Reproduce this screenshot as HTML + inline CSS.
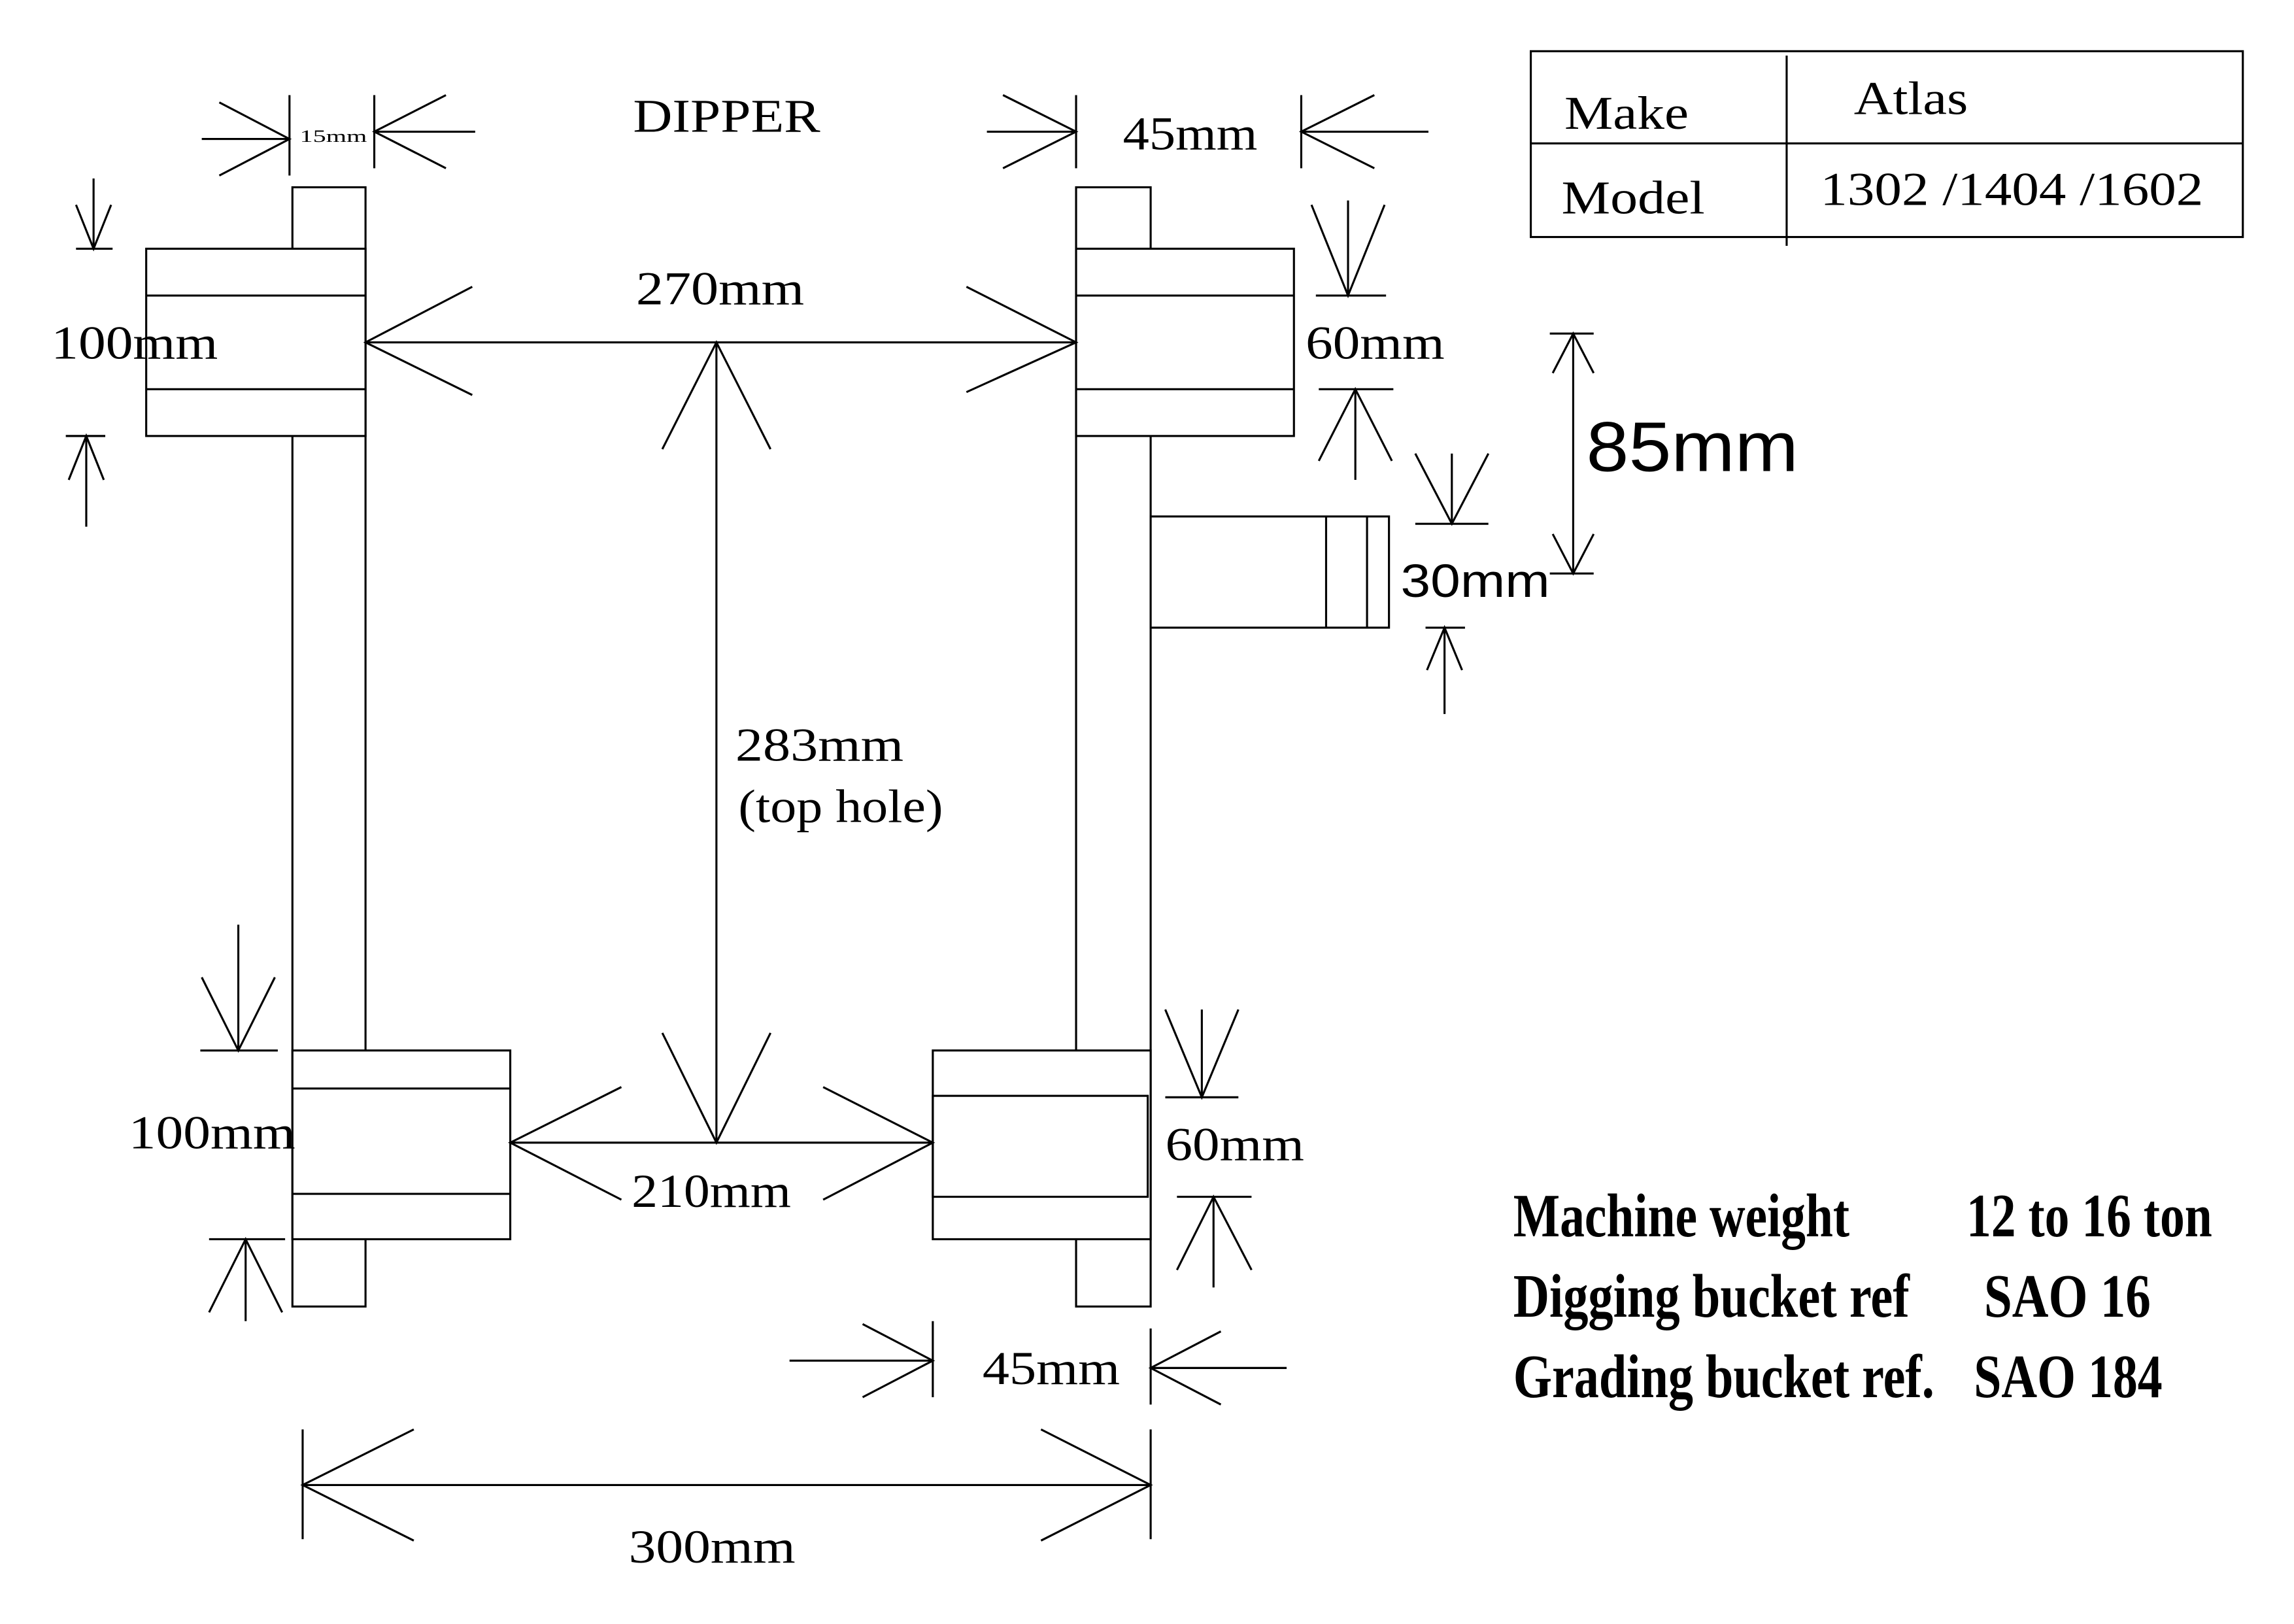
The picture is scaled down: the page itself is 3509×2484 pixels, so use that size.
<!DOCTYPE html>
<html><head><meta charset="utf-8"><style>
html,body{margin:0;padding:0;background:#fff;}
svg{display:block;}
text{font-family:"Liberation Serif",serif;fill:#000;}
.s{font-family:"Liberation Sans",sans-serif;}
.b{font-weight:bold;}
</style></head><body>
<svg width="3509" height="2484" viewBox="0 0 1569 1110" preserveAspectRatio="none" xmlns="http://www.w3.org/2000/svg">
<g fill="none" stroke="#000" stroke-width="1.4">
<rect x="200" y="128" width="50" height="765"/>
<rect x="736" y="128" width="51" height="765"/>
<rect x="100" y="170" width="150" height="128" fill="#fff"/>
<line x1="100" y1="202" x2="250" y2="202"/><line x1="100" y1="266" x2="250" y2="266"/>
<rect x="200" y="718" width="149" height="129" fill="#fff"/>
<line x1="200" y1="744" x2="349" y2="744"/><line x1="200" y1="816" x2="349" y2="816"/>
<rect x="736" y="170" width="149" height="128" fill="#fff"/>
<line x1="736" y1="202" x2="885" y2="202"/><line x1="736" y1="266" x2="885" y2="266"/>
<rect x="638" y="718" width="149" height="129" fill="#fff"/>
<rect x="638" y="749" width="147" height="69"/>
<rect x="787" y="353" width="163" height="76" fill="#fff"/>
<line x1="907" y1="353" x2="907" y2="429"/><line x1="935" y1="353" x2="935" y2="429"/>
<rect x="1047" y="35" width="487" height="127"/>
<line x1="1047" y1="98" x2="1534" y2="98"/><line x1="1222" y1="38" x2="1222" y2="168"/>

<line x1="250" y1="234" x2="736" y2="234"/>
<polyline points="323,196 250,234 323,270"/><polyline points="661,196 736,234 661,268"/>
<line x1="490" y1="234" x2="490" y2="781"/>
<polyline points="453,307 490,234 527,307"/><polyline points="453,706 490,781 527,706"/>
<line x1="349" y1="781" x2="638" y2="781"/>
<polyline points="425,743 349,781 425,820"/><polyline points="563,743 638,781 563,820"/>
<line x1="207" y1="1015" x2="787" y2="1015"/>
<line x1="207" y1="977" x2="207" y2="1052"/><line x1="787" y1="977" x2="787" y2="1052"/>
<polyline points="283,977 207,1015 283,1053"/><polyline points="712,977 787,1015 712,1053"/>
<line x1="638" y1="903" x2="638" y2="955"/><line x1="787" y1="908" x2="787" y2="960"/>
<line x1="540" y1="930" x2="638" y2="930"/><polyline points="590,905 638,930 590,955"/>
<line x1="880" y1="935" x2="787" y2="935"/><polyline points="835,910 787,935 835,960"/>
<line x1="736" y1="65" x2="736" y2="115"/><line x1="890" y1="65" x2="890" y2="115"/>
<line x1="675" y1="90" x2="736" y2="90"/><polyline points="686,65 736,90 686,115"/>
<line x1="977" y1="90" x2="890" y2="90"/><polyline points="940,65 890,90 940,115"/>
<line x1="198" y1="65" x2="198" y2="120"/><line x1="256" y1="65" x2="256" y2="115"/>
<line x1="138" y1="95" x2="198" y2="95"/><polyline points="150,70 198,95 150,120"/>
<line x1="325" y1="90" x2="256" y2="90"/><polyline points="305,65 256,90 305,115"/>
<line x1="64" y1="122" x2="64" y2="170"/><polyline points="52,140 64,170 76,140"/><line x1="52" y1="170" x2="77" y2="170"/>
<line x1="59" y1="360" x2="59" y2="298"/><polyline points="47,328 59,298 71,328"/><line x1="45" y1="298" x2="72" y2="298"/>
<line x1="163" y1="632" x2="163" y2="718"/><polyline points="138,668 163,718 188,668"/><line x1="137" y1="718" x2="190" y2="718"/>
<line x1="168" y1="903" x2="168" y2="847"/><polyline points="143,897 168,847 193,897"/><line x1="143" y1="847" x2="195" y2="847"/>
<line x1="922" y1="137" x2="922" y2="202"/><polyline points="897,140 922,202 947,140"/><line x1="900" y1="202" x2="948" y2="202"/>
<line x1="927" y1="328" x2="927" y2="266"/><polyline points="902,315 927,266 952,315"/><line x1="902" y1="266" x2="953" y2="266"/>
<line x1="1076" y1="228" x2="1076" y2="392"/>
<line x1="1060" y1="228" x2="1090" y2="228"/><line x1="1060" y1="392" x2="1090" y2="392"/>
<polyline points="1062,255 1076,228 1090,255"/><polyline points="1062,365 1076,392 1090,365"/>
<line x1="993" y1="310" x2="993" y2="358"/><polyline points="968,310 993,358 1018,310"/><line x1="968" y1="358" x2="1018" y2="358"/>
<line x1="988" y1="488" x2="988" y2="429"/><polyline points="976,458 988,429 1000,458"/><line x1="975" y1="429" x2="1002" y2="429"/>
<line x1="822" y1="690" x2="822" y2="750"/><polyline points="797,690 822,750 847,690"/><line x1="797" y1="750" x2="847" y2="750"/>
<line x1="830" y1="880" x2="830" y2="818"/><polyline points="805,868 830,818 856,868"/><line x1="805" y1="818" x2="856" y2="818"/>
</g>

<g font-size="32">
<text x="433" y="90" textLength="128" lengthAdjust="spacingAndGlyphs">DIPPER</text>
<text x="205" y="97" font-size="12" textLength="46" lengthAdjust="spacingAndGlyphs">15mm</text>
<text x="768" y="102" textLength="92" lengthAdjust="spacingAndGlyphs">45mm</text>
<text x="435" y="208" textLength="115" lengthAdjust="spacingAndGlyphs">270mm</text>
<text x="35" y="245" textLength="114" lengthAdjust="spacingAndGlyphs">100mm</text>
<text x="893" y="245" textLength="95" lengthAdjust="spacingAndGlyphs">60mm</text>
<text x="1085" y="322" class="s" font-size="48" textLength="145" lengthAdjust="spacingAndGlyphs">85mm</text>
<text x="958" y="408" class="s" textLength="102" lengthAdjust="spacingAndGlyphs">30mm</text>
<text x="503" y="520" textLength="115" lengthAdjust="spacingAndGlyphs">283mm</text>
<text x="505" y="562" textLength="140" lengthAdjust="spacingAndGlyphs">(top hole)</text>
<text x="88" y="785" textLength="114" lengthAdjust="spacingAndGlyphs">100mm</text>
<text x="797" y="793" textLength="95" lengthAdjust="spacingAndGlyphs">60mm</text>
<text x="432" y="825" textLength="109" lengthAdjust="spacingAndGlyphs">210mm</text>
<text x="672" y="946" textLength="94" lengthAdjust="spacingAndGlyphs">45mm</text>
<text x="430" y="1068" textLength="114" lengthAdjust="spacingAndGlyphs">300mm</text>
<text x="1070" y="88" textLength="85" lengthAdjust="spacingAndGlyphs">Make</text>
<text x="1268" y="78" textLength="78" lengthAdjust="spacingAndGlyphs">Atlas</text>
<text x="1068" y="146" textLength="98" lengthAdjust="spacingAndGlyphs">Model</text>
<text x="1245" y="140" textLength="262" lengthAdjust="spacingAndGlyphs">1302 /1404 /1602</text>
</g>
<g font-size="42" class="b">
<text x="1035" y="845" class="b" textLength="230" lengthAdjust="spacingAndGlyphs">Machine weight</text>
<text x="1345" y="845" class="b" textLength="168" lengthAdjust="spacingAndGlyphs">12 to 16 ton</text>
<text x="1035" y="900" class="b" textLength="271" lengthAdjust="spacingAndGlyphs">Digging bucket ref</text>
<text x="1357" y="900" class="b" textLength="114" lengthAdjust="spacingAndGlyphs">SAO 16</text>
<text x="1035" y="955" class="b" textLength="288" lengthAdjust="spacingAndGlyphs">Grading bucket ref.</text>
<text x="1350" y="955" class="b" textLength="129" lengthAdjust="spacingAndGlyphs">SAO 184</text>
</g>
</svg>
</body></html>
